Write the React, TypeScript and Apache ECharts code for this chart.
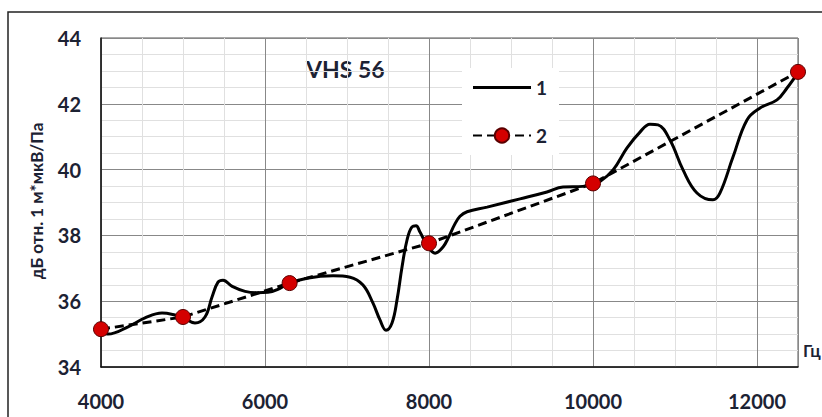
import React, { useEffect, useRef } from "react";
import * as echarts from "echarts";

// Curve 1 (measured response)
const curveFreq = [
  4000, 4085, 4330, 4537, 4744, 4902, 5000, 5146, 5268, 5354, 5427, 5488, 5600, 5757, 5900, 6037, 6150, 6300,
  6512, 6830, 7037, 7195, 7317, 7402, 7476, 7549, 7610, 7671, 7732, 7793, 7842, 7890, 7976, 8074, 8171,
  8240, 8310, 8378, 8464, 8708, 9110, 9439, 9634, 9878, 10000,
  10085, 10245, 10415, 10573, 10695, 10793, 10939, 11098, 11268, 11463, 11549, 11707, 11878, 12037, 12244, 12366, 12500,
];
const curveLevel = [
  35.03, 35.0, 35.22, 35.49, 35.64, 35.58, 35.5, 35.34, 35.52, 36.13, 36.58, 36.64, 36.45, 36.3, 36.26, 36.27, 36.35, 36.55,
  36.7, 36.77, 36.73, 36.49, 35.94, 35.43, 35.12, 35.34, 36.04, 37.04, 37.86, 38.26, 38.29, 38.1, 37.71, 37.46, 37.65,
  37.95, 38.32, 38.58, 38.72, 38.86, 39.11, 39.32, 39.47, 39.49, 39.59,
  39.64, 39.99, 40.66, 41.14, 41.38, 41.36, 40.9, 39.99, 39.29, 39.08, 39.29, 40.38, 41.51, 41.87, 42.12, 42.48, 42.95,
];

// Curve 2 (1/3-octave points)
const pointFreq = [4000, 5000, 6300, 8000, 10000, 12500];
const pointLevel = [35.15, 35.52, 36.55, 37.76, 39.58, 42.97];

const xTicks = [4000, 6000, 8000, 10000, 12000];
const yTicks = [34, 36, 38, 40, 42, 44];

const seriesNames = ["1", "2"];
const chartTitle = "VHS 56";
const yName = "дБ отн. 1 м*мкВ/Па";
const xName = "Гц";

const FONT = "Lato, 'Open Sans', sans-serif";
const TEXT_COLOR = "#1c2233";

export default function App() {
  const ref = useRef<HTMLDivElement>(null);
  useEffect(() => {
    if (!ref.current) return;
    const chart = echarts.init(ref.current, undefined, { renderer: "svg" });
    const grid = { left: 101, right: 24, top: 38, bottom: 50, show: true, borderColor: "#555", borderWidth: 1 };
    chart.setOption({
      animation: false,
      backgroundColor: "#fff",
      textStyle: { fontFamily: FONT },
      grid,
      xAxis: [
        {
          type: "value",
          min: 4000,
          max: 12500,
          interval: 500,
          axisLabel: { show: false },
          axisLine: { show: false },
          axisTick: { show: false },
          splitLine: { show: true, lineStyle: { color: "#e0e0e0", width: 1 } },
        },
        {
          type: "value",
          min: xTicks[0],
          max: 12500,
          interval: 2000,
          position: "bottom",
          axisLabel: {
            show: true,
            margin: 24,
            fontSize: 20,
            fontWeight: "bold",
            color: TEXT_COLOR,
            fontFamily: FONT,
            showMaxLabel: false,
            formatter: (v: number) => (xTicks.includes(v) ? String(v) : ""),
          },
          axisLine: { show: true, lineStyle: { color: "#111", width: 1.5 } },
          axisTick: { show: false },
          splitLine: { show: true, lineStyle: { color: "#888", width: 1 } },
        },
      ],
      yAxis: [
        {
          type: "value",
          min: 34,
          max: 44,
          interval: 0.5,
          axisLabel: { show: false },
          axisLine: { show: false },
          axisTick: { show: false },
          splitLine: { show: true, lineStyle: { color: "#e0e0e0", width: 1 } },
        },
        {
          type: "value",
          min: yTicks[0],
          max: yTicks[yTicks.length - 1],
          interval: 2,
          position: "left",
          axisLabel: {
            show: true,
            margin: 20,
            fontSize: 20,
            fontWeight: "bold",
            color: TEXT_COLOR,
            fontFamily: FONT,
            formatter: (v: number) => (yTicks.includes(v) ? String(v) : ""),
          },
          axisLine: { show: true, lineStyle: { color: "#111", width: 1.5 } },
          axisTick: { show: false },
          splitLine: { show: true, lineStyle: { color: "#888", width: 1 } },
        },
      ],
      legend: {
        orient: "vertical",
        left: 462,
        top: 68,
        padding: [10, 12, 10, 10],
        itemWidth: 58,
        itemHeight: 18,
        itemGap: 29,
        backgroundColor: "#fff",
        textStyle: { fontSize: 19, fontWeight: "bold", color: TEXT_COLOR, fontFamily: FONT },
        data: [
          { name: seriesNames[0], icon: "path://M0,0 L58,0 L58,3 L0,3 Z", itemStyle: { color: "#000" } },
          { name: seriesNames[1] },
        ],
      },
      series: [
        {
          name: seriesNames[0],
          type: "line",
          xAxisIndex: 1,
          yAxisIndex: 1,
          data: curveFreq.map((f, i) => [f, curveLevel[i]]),
          smooth: 0.4,
          showSymbol: false,
          symbol: "none",
          lineStyle: { color: "#000", width: 3 },
          itemStyle: { color: "#000" },
          z: 3,
        },
        {
          name: seriesNames[1],
          type: "line",
          xAxisIndex: 1,
          yAxisIndex: 1,
          data: pointFreq.map((f, i) => [f, pointLevel[i]]),
          symbol: "circle",
          symbolSize: 15,
          showSymbol: true,
          lineStyle: { color: "#000", width: 3, type: [9, 5] },
          itemStyle: { color: "#d40000", borderColor: "#5a0000", borderWidth: 1 },
          z: 4,
        },
      ],
      graphic: [
        {
          type: "rect",
          shape: { x: 8, y: 12, width: 900, height: 500 },
          style: { fill: "none", stroke: "#222", lineWidth: 1.5 },
          silent: true,
        },
        {
          type: "text",
          x: 306,
          y: 57,
          style: { text: chartTitle, fontSize: 23, fontWeight: "bold", fill: TEXT_COLOR, fontFamily: FONT },
        },
        {
          type: "text",
          x: 36,
          y: 201,
          rotation: Math.PI / 2,
          style: {
            text: yName,
            fontSize: 17,
            fontWeight: "bold",
            fill: TEXT_COLOR,
            fontFamily: FONT,
            align: "center",
            verticalAlign: "middle",
          },
        },
        {
          type: "text",
          x: 803,
          y: 342,
          style: { text: xName, fontSize: 17, fontWeight: "bold", fill: TEXT_COLOR, fontFamily: FONT },
        },
      ],
    });
    return () => chart.dispose();
  }, []);
  return (
    <div
      ref={ref}
      style={{ position: "fixed", left: 0, top: 0, width: 822, height: 417, background: "#fff" }}
    />
  );
}
